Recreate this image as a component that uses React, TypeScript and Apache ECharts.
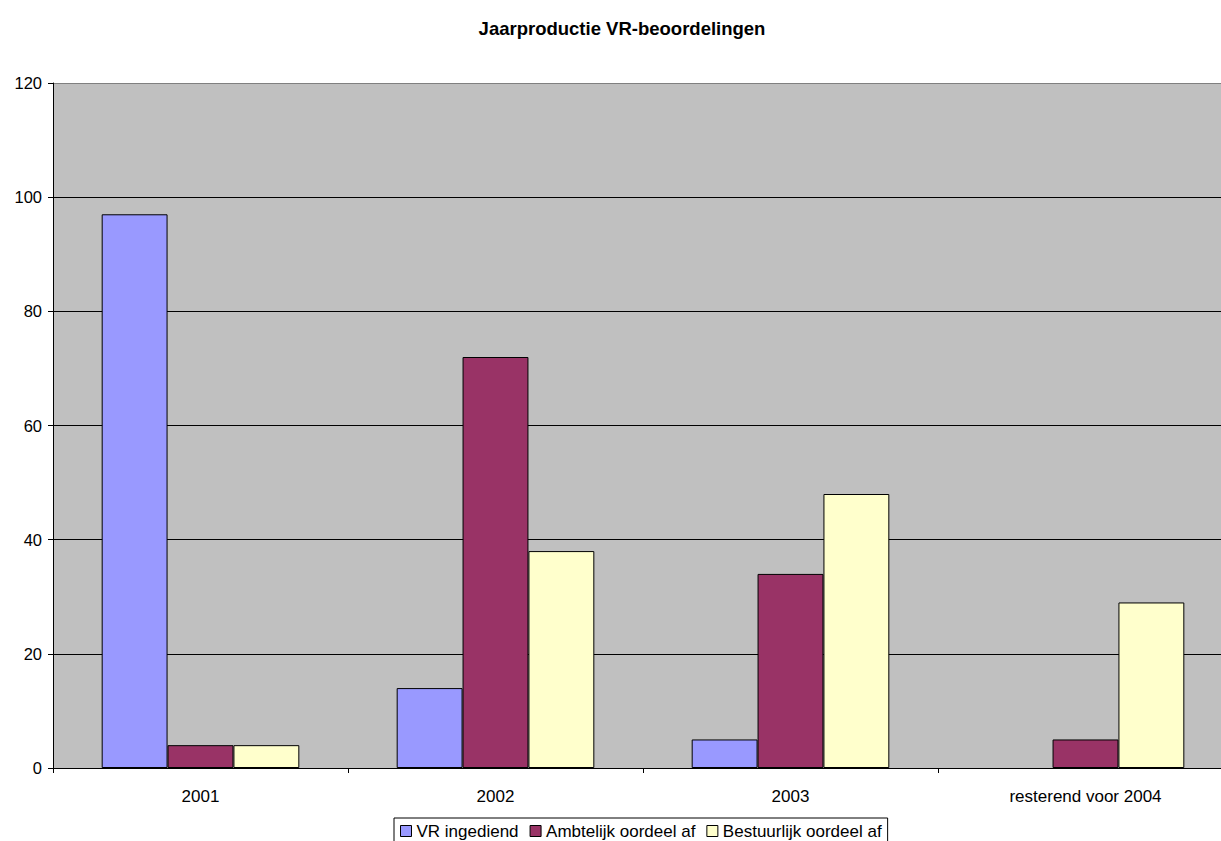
import React, { useEffect, useRef } from "react";
import * as echarts from "echarts";

const categories = ["2001", "2002", "2003", "resterend voor 2004"];
const vrIngediend: (number | null)[] = [97, 14, 5, null];
const ambtelijk: number[] = [4, 72, 34, 5];
const bestuurlijk: number[] = [4, 38, 48, 29];
const seriesNames = ["VR ingediend", "Ambtelijk oordeel af", "Bestuurlijk oordeel af"];
const yTicks = { min: 0, max: 120, interval: 20 };

export default function App() {
  const ref = useRef<HTMLDivElement>(null);
  useEffect(() => {
    document.body.style.overflow = "hidden";
    const chart = echarts.init(ref.current!, null, { renderer: "svg" });
    const font = "Arial, 'Liberation Sans', sans-serif";
    const barStyle = (c: string) => ({ color: c, borderColor: "#000", borderWidth: 1 });
    chart.setOption({
      animation: false,
      textStyle: { fontFamily: font },
      title: {
        text: "Jaarproductie VR-beoordelingen",
        left: 617,
        textAlign: "center",
        top: 14,
        textStyle: { fontSize: 18.5, fontWeight: "bold", color: "#000", fontFamily: font },
      },
      legend: {
        left: 394,
        top: 818,
        itemWidth: 11,
        itemHeight: 11,
        itemGap: 11,
        padding: [4, 6, 4, 6],
        borderColor: "#000",
        borderWidth: 1,
        icon: "rect",
        textStyle: { fontSize: 17, lineHeight: 18, color: "#000", fontFamily: font, padding: [0, 0, 0, 0] },
        data: seriesNames.map((n) => ({ name: n, itemStyle: { borderColor: "#000", borderWidth: 1 } })),
      },
      grid: {
        left: 53,
        top: 83,
        width: 1180,
        height: 685,
        show: true,
        backgroundColor: "#C0C0C0",
        borderWidth: 0,
      },
      xAxis: {
        type: "category",
        data: categories,
        axisLine: { lineStyle: { color: "#000", width: 1 } },
        axisTick: { show: true, length: 5, inside: false, lineStyle: { color: "#000" } },
        axisLabel: { fontSize: 17, color: "#000", margin: 20, fontFamily: font },
      },
      yAxis: {
        type: "value",
        min: yTicks.min,
        max: yTicks.max,
        interval: yTicks.interval,
        axisLine: { show: true, lineStyle: { color: "#000", width: 1 } },
        axisTick: { show: true, length: 5, lineStyle: { color: "#000" } },
        axisLabel: { fontSize: 16.5, color: "#000", margin: 11, fontFamily: font },
        splitLine: {
          show: true,
          lineStyle: { color: ["#000", "#000", "#000", "#000", "#000", "#000", "#808080"], width: 1 },
        },
      },
      series: [
        { name: seriesNames[0], type: "bar", data: vrIngediend, itemStyle: barStyle("#9999FF"), barGap: "0%", barCategoryGap: "33%" },
        { name: seriesNames[1], type: "bar", data: ambtelijk, itemStyle: barStyle("#993366"), barGap: "0%", barCategoryGap: "33%" },
        { name: seriesNames[2], type: "bar", data: bestuurlijk, itemStyle: barStyle("#FFFFCC"), barGap: "0%", barCategoryGap: "33%" },
      ],
    });
    return () => chart.dispose();
  }, []);
  return (
    <div
      ref={ref}
      style={{ position: "absolute", left: 0, top: 0, width: 1250, height: 841 }}
    />
  );
}
